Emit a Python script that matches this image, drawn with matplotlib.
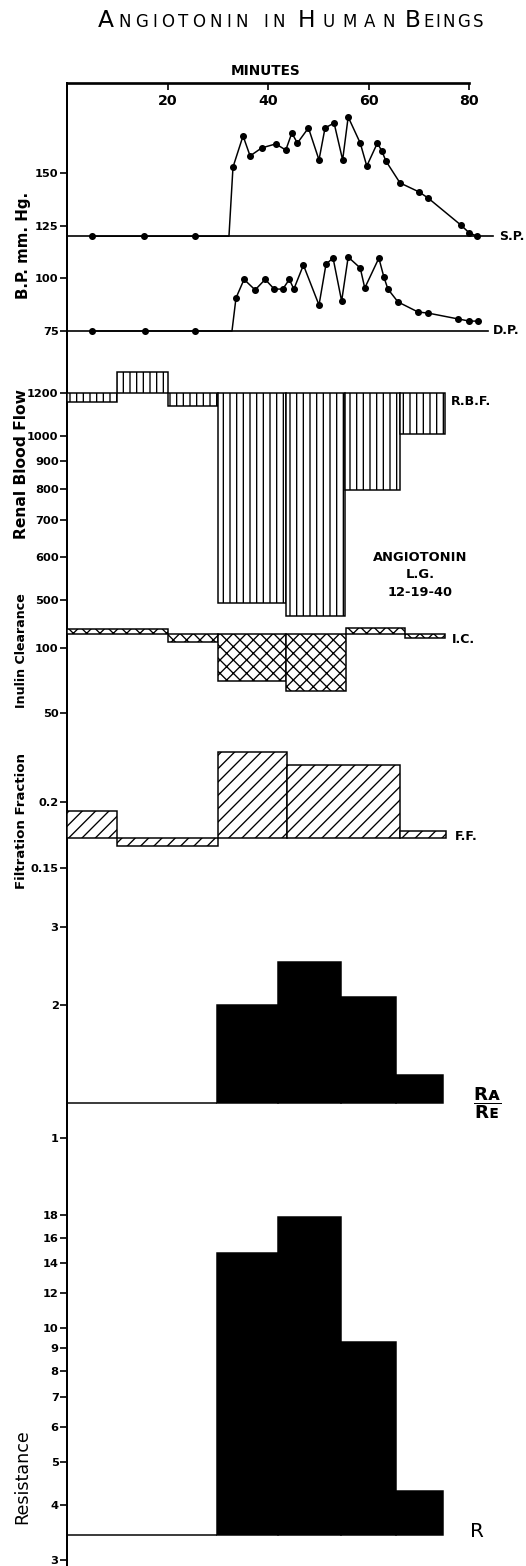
import numpy as np
import matplotlib
matplotlib.use("Agg")
import matplotlib.pyplot as plt

plt.rcParams['font.family'] = ['DejaVu Sans']
plt.rcParams['font.weight'] = 'bold'
plt.rcParams['hatch.linewidth'] = 0.8
plt.rcParams['mathtext.fontset'] = 'dejavusans'

# ---------------- data ----------------
minute_ticks = [20, 40, 60, 80]

sp_min = [5.0, 15.3, 25.4, 32.2, 33.0, 35.0, 36.4, 38.7, 41.5, 43.5, 44.7, 45.8, 48.0,
          50.1, 51.3, 53.1, 54.8, 55.9, 58.3, 59.6, 61.7, 62.6, 63.4, 66.2, 70.0, 71.8,
          78.3, 80.0, 81.6]
sp_val = [120, 120, 120, 120, 152.8, 167.6, 158.1, 161.9, 163.8, 160.9, 169.0, 164.2, 171.4,
          156.2, 171.4, 173.7, 156.2, 176.6, 164.2, 153.3, 164.2, 160.4, 155.7, 145.3, 141.0,
          138.1, 125.3, 121.5, 120.0]
dp_min = [5.0, 15.5, 25.4, 32.8, 33.6, 35.2, 37.4, 39.4, 41.2, 42.9, 44.2, 45.1, 47.0,
          50.1, 51.5, 52.9, 54.6, 55.9, 58.3, 59.2, 62.0, 63.0, 63.8, 65.8, 69.8, 71.8,
          77.8, 80.0, 81.7]
dp_val = [75, 75, 75, 75, 90.7, 99.5, 94.5, 99.5, 94.9, 94.9, 99.5, 94.9, 106.3,
          87.3, 106.8, 109.6, 89.2, 110.1, 104.9, 95.4, 109.6, 100.6, 94.9, 88.8, 84.0,
          83.5, 80.7, 79.7, 79.7]
sp_base, sp_base_end = 120, 84.7
dp_base, dp_base_end = 75, 83.7
bp_ticks = [75, 100, 125, 150]

rbf_edges = [0, 10, 20, 30, 43.5, 55.3, 66.2, 75.1]
rbf_vals = [1155, 1312, 1136, 493, 467, 796, 1009]
rbf_base = 1200
rbf_ticks = [500, 600, 700, 800, 900, 1000, 1200]

ic_edges = [0, 20, 30, 43.5, 55.5, 67.2, 75.1]
ic_vals = [122, 107, 70, 63, 124, 111]
ic_base = 116
ic_ticks = [50, 100]

ff_edges = [0, 10, 30, 43.7, 66.2, 75.3]
ff_vals = [0.193, 0.167, 0.238, 0.228, 0.178]
ff_base = 0.1727
ff_ticks = [0.15, 0.2]
ff_labels = ['0.15', '0.2']

ra_edges = [0, 29.8, 41.9, 54.5, 65.4, 74.8]
ra_vals = [1.20, 2.0, 2.5, 2.08, 1.39]
ra_base = 1.20
ra_ticks = [1, 2, 3]

res_edges = [0, 29.8, 41.9, 54.5, 65.4, 74.8]
res_vals = [3.42, 14.8, 17.8, 9.3, 4.3]
res_base = 3.42
res_ticks = [3, 4, 5, 6, 7, 8, 9, 10, 12, 14, 16, 18]

# ---------------- layout ----------------
W, H, DPI = 526, 1566, 120
fig = plt.figure(figsize=(W / DPI, H / DPI), dpi=DPI)
fig.patch.set_facecolor('white')
XL, XR = 67, 520
PX_PER_MIN = 5.03
xlim = (0, (XR - XL) / PX_PER_MIN)
TOP = 83


def fx(px):
    return px / W


def fy(py):
    return 1 - py / H


frame = fig.add_axes([fx(XL), fy(H), fx(XR - XL), (H - TOP) / H])
frame.set_xlim(xlim)
frame.set_ylim(0, 1)
frame.patch.set_visible(False)
frame.spines['right'].set_visible(False)
frame.spines['bottom'].set_visible(False)
frame.spines['left'].set_linewidth(1.2)
frame.spines['top'].set_linewidth(1.6)
frame.spines['top'].set_bounds(0, 80)
frame.set_yticks([])
frame.xaxis.tick_top()
frame.set_xticks(minute_ticks, [str(t) for t in minute_ticks], fontsize=8.5, fontweight='bold')
frame.tick_params(axis='x', direction='in', length=4, width=1.0, pad=-15)
fig.text(fx(266), fy(71), 'MINUTES', fontsize=8.2, fontweight='bold', ha='center', va='center')


def panel(vlo, vhi, ref1, ref2, log, ticks, labels=None):
    f = np.log10 if log else (lambda v: v)
    (v1, p1), (v2, p2) = ref1, ref2
    k = (p2 - p1) / (f(v2) - f(v1))
    p_lo = p1 + (f(vlo) - f(v1)) * k
    p_hi = p1 + (f(vhi) - f(v1)) * k
    ax = fig.add_axes([fx(XL), fy(p_lo), fx(XR - XL), (p_lo - p_hi) / H])
    if log:
        ax.set_yscale('log')
    ax.set_ylim(vlo, vhi)
    ax.set_xlim(xlim)
    ax.patch.set_visible(False)
    for s in ax.spines.values():
        s.set_visible(False)
    ax.set_xticks([])
    if labels is None:
        labels = [str(t) for t in ticks]
    ax.set_yticks(ticks, labels, fontsize=6.8, fontweight='bold')
    ax.minorticks_off()
    ax.tick_params(axis='y', direction='out', length=4, width=1.0, pad=1)
    return ax


def step_bars(ax, edges, vals, base, **kw):
    e = np.asarray(edges, dtype=float)
    v = np.asarray(vals, dtype=float)
    ax.bar(e[:-1], v - base, width=np.diff(e), bottom=base, align='edge', **kw)


# BP panel
ax_bp = panel(70, 192, (75, 331), (150, 173), False, bp_ticks)
ax_bp.plot([0, sp_base_end], [sp_base, sp_base], color='black', lw=1.0)
ax_bp.plot([0, dp_base_end], [dp_base, dp_base], color='black', lw=1.0)
mk = [i for i in range(len(sp_min)) if i != 3]
ax_bp.plot(sp_min, sp_val, color='black', lw=0.9, marker='o', ms=3.2, markevery=mk, clip_on=False)
mk = [i for i in range(len(dp_min)) if i != 3]
ax_bp.plot(dp_min, dp_val, color='black', lw=0.9, marker='o', ms=3.2, markevery=mk, clip_on=False)
ax_bp.text(85.9, sp_base, 'S.P.', fontsize=7.5, ha='left', va='center', clip_on=False)
ax_bp.text(84.7, dp_base, 'D.P.', fontsize=7.5, ha='left', va='center', clip_on=False)
fig.text(fx(24), fy(245), 'B.P. mm. Hg.', rotation=90, fontsize=9, ha='center', va='center')

# RBF panel
ax_rbf = panel(460, 1400, (1200, 393), (500, 600), True, rbf_ticks)
step_bars(ax_rbf, rbf_edges, rbf_vals, rbf_base, facecolor='white', edgecolor='black',
          linewidth=0.9, hatch='|||')
ax_rbf.text(76.3, 1160, 'R.B.F.', fontsize=7.5, ha='left', va='center', clip_on=False)
fig.text(fx(22), fy(464), 'Renal Blood Flow', rotation=90, fontsize=9.3, ha='center', va='center')
fig.text(fx(420), fy(575), 'ANGIOTONIN\nL.G.\n12-19-40', fontsize=7.8, ha='center', va='center',
         multialignment='center', linespacing=1.45)

# IC panel
ax_ic = panel(40, 135, (100, 648), (50, 713), True, ic_ticks)
step_bars(ax_ic, ic_edges, ic_vals, ic_base, facecolor='white', edgecolor='black',
          linewidth=0.9, hatch='xxx')
ax_ic.text(76.5, 110, 'I.C.', fontsize=7.5, ha='left', va='center', clip_on=False)
fig.text(fx(22), fy(651), 'Inulin Clearance', rotation=90, fontsize=7.6, ha='center', va='center')

# FF panel
ax_ff = panel(0.13, 0.25, (0.2, 802), (0.15, 868), False, ff_ticks, ff_labels)
step_bars(ax_ff, ff_edges, ff_vals, ff_base, facecolor='white', edgecolor='black',
          linewidth=0.9, hatch='///')
ax_ff.text(77.1, 0.1735, 'F.F.', fontsize=7.5, ha='left', va='center', clip_on=False)
fig.text(fx(22), fy(821), 'Filtration Fraction', rotation=90, fontsize=8, ha='center', va='center')

# RA/RE panel
ax_ra = panel(0.95, 3.3, (2, 1005), (1, 1138), True, ra_ticks)
step_bars(ax_ra, ra_edges, ra_vals, ra_base, facecolor='black', edgecolor='black', linewidth=0.9)
ax_ra.text(83.5, 1.2, r'$\dfrac{\mathregular{Rᴀ}}{\mathregular{Rᴇ}}$', fontsize=11,
           ha='center', va='center', clip_on=False)

# Resistance panel
ax_res = panel(2.9, 20, (3, 1560), (18, 1215), True, res_ticks)
step_bars(ax_res, res_edges, res_vals, res_base, facecolor='black', edgecolor='black', linewidth=0.9)
ax_res.text(80.1, 3.47, 'R', fontsize=12, fontweight='normal', ha='left', va='center', clip_on=False)
fig.text(fx(22), fy(1477), 'Resistance', rotation=90, fontsize=10.5, fontweight='normal',
         ha='center', va='center')

# Title with small caps
renderer = fig.canvas.get_renderer()
title_words = [("ANGIOTONIN", 98, 150, True), ("IN", 263, 22, False),
               ("HUMAN", 298, 97, True), ("BEINGS", 405, 78, True)]
for word, x0, wtarget, cap in title_words:
    texts = [fig.text(0, 0, ch, fontsize=(14 if (i == 0 and cap) else 10), fontweight='normal',
                      va='baseline', ha='left') for i, ch in enumerate(word)]
    widths = [t.get_window_extent(renderer).width for t in texts]
    gap = (wtarget - sum(widths)) / (len(word) - 1) if len(word) > 1 else 0
    x = x0
    for t, w in zip(texts, widths):
        t.set_position((fx(x), fy(27)))
        x += w + gap

fig.savefig('out.png', dpi=DPI, facecolor='white')
